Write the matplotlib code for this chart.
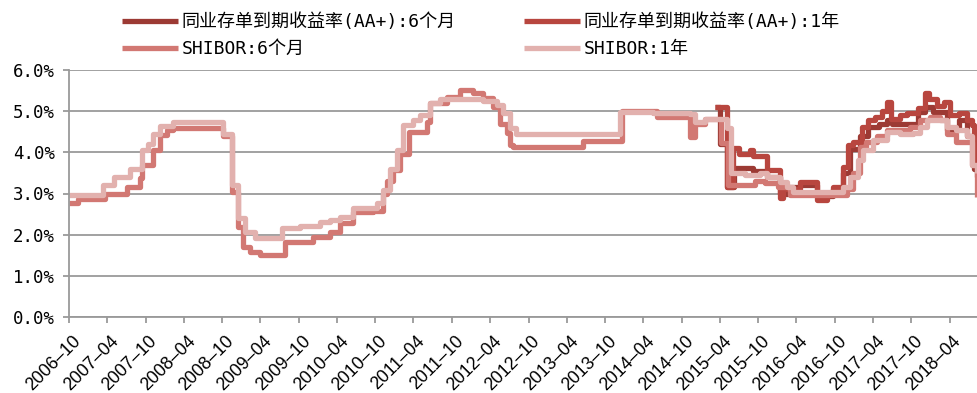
import pandas as pd
import matplotlib.pyplot as plt
import matplotlib.dates as mdates
import matplotlib.transforms as mtransforms
from matplotlib.ticker import PercentFormatter

plt.rcParams['font.family'] = ['DejaVu Sans Mono', 'Noto Sans CJK SC']

# SHIBOR 1Y (step breakpoints)
sh1y_dates = ['2006-10-01', '2007-03-10', '2007-05-06', '2007-07-17', '2007-09-12', '2007-10-12',
              '2007-11-06', '2007-12-10', '2008-02-09', '2008-10-04', '2008-11-16', '2008-12-15',
              '2009-01-18', '2009-03-04', '2009-07-12', '2009-10-06', '2010-01-10', '2010-03-01',
              '2010-04-14', '2010-06-15', '2010-10-09', '2010-11-07', '2010-12-10', '2011-01-12',
              '2011-02-10', '2011-03-28', '2011-05-01', '2011-06-18', '2011-08-04', '2012-02-27',
              '2012-05-03', '2012-06-01', '2012-07-03', '2012-08-01', '2013-12-10', '2014-05-16',
              '2014-11-10', '2014-12-04', '2015-01-19', '2015-05-04', '2015-05-27', '2015-08-01',
              '2015-10-09', '2015-11-12', '2016-01-13', '2016-02-15', '2016-03-13', '2016-11-08',
              '2016-12-12', '2017-01-19', '2017-02-12', '2017-04-01', '2017-06-06', '2017-08-10',
              '2017-10-07', '2017-11-10', '2017-12-13', '2018-03-18', '2018-05-04', '2018-06-21',
              '2018-07-15', '2018-08-09']
sh1y = [2.97, 3.20, 3.40, 3.60, 4.05, 4.20, 4.45, 4.64, 4.74, 4.45, 3.20, 2.40,
        2.06, 1.92, 2.16, 2.22, 2.30, 2.36, 2.44, 2.64, 2.77, 3.08, 3.60, 4.05,
        4.66, 4.78, 4.90, 5.19, 5.29, 5.25, 5.15, 4.95, 4.60, 4.45, 4.99, 4.95,
        4.93, 4.74, 4.80, 4.59, 3.50, 3.45, 3.50, 3.40, 3.29, 3.16, 3.04, 3.17,
        3.40, 3.81, 4.05, 4.30, 4.50, 4.45, 4.47, 4.62, 4.78, 4.62, 4.55, 4.40,
        3.69, 3.50]

# SHIBOR 6M
sh6m_dates = ['2006-10-01', '2006-11-13', '2007-03-20', '2007-07-03', '2007-09-04', '2007-09-14',
              '2007-11-05', '2007-12-08', '2008-01-11', '2008-02-09', '2008-10-04', '2008-11-16',
              '2008-12-15', '2009-01-08', '2009-02-11', '2009-03-28', '2009-07-25', '2009-12-07',
              '2010-02-27', '2010-04-14', '2010-06-15', '2010-09-19', '2010-11-06', '2010-11-25',
              '2010-12-23', '2011-01-26', '2011-03-13', '2011-06-03', '2011-06-17', '2011-09-07',
              '2011-11-08', '2012-01-09', '2012-02-26', '2012-04-13', '2012-05-16', '2012-06-19',
              '2012-07-03', '2012-07-17', '2013-06-16', '2013-12-19', '2014-06-04', '2014-11-09',
              '2014-12-02', '2015-01-19', '2015-04-09', '2015-05-09', '2015-09-15', '2015-11-01',
              '2016-01-03', '2016-03-01', '2016-11-27', '2016-12-25', '2017-01-27', '2017-02-27',
              '2017-04-18', '2017-06-06', '2017-09-24', '2017-11-10', '2017-12-27', '2018-02-15',
              '2018-03-18', '2018-05-04', '2018-07-15', '2018-08-09']
sh6m = [2.78, 2.87, 3.00, 3.15, 3.37, 3.69, 4.05, 4.42, 4.54, 4.60, 4.40, 3.04,
        2.19, 1.71, 1.59, 1.51, 1.83, 1.95, 2.07, 2.28, 2.55, 2.58, 2.98, 3.30,
        3.56, 3.97, 4.50, 4.74, 5.20, 5.35, 5.51, 5.45, 5.33, 5.10, 4.70, 4.47,
        4.18, 4.13, 4.28, 5.00, 4.87, 4.38, 4.70, 4.80, 4.22, 3.20, 3.30, 3.25,
        3.17, 2.97, 3.10, 3.50, 4.14, 4.25, 4.40, 4.55, 4.62, 4.78, 4.87, 4.78,
        4.45, 4.25, 3.69, 2.92]

# NCD AA+ 1Y
ncd1y_dates = ['2015-03-07', '2015-05-04', '2015-06-01', '2015-07-04', '2015-08-21', '2015-09-05',
               '2015-11-12', '2016-01-13', '2016-01-27', '2016-04-16', '2016-07-10', '2016-08-24',
               '2016-09-21', '2016-11-08', '2016-12-01', '2016-12-25', '2017-02-06', '2017-03-06',
               '2017-04-09', '2017-05-12', '2017-06-09', '2017-06-28', '2017-08-06', '2017-09-12',
               '2017-10-31', '2017-12-03', '2017-12-25', '2018-02-01', '2018-03-07', '2018-04-01',
               '2018-05-18', '2018-06-21', '2018-07-15', '2018-07-28', '2018-08-09']
ncd1y = [5.10, 3.17, 4.10, 3.95, 4.05, 3.90, 3.57, 2.89, 3.10, 3.29, 2.85, 3.00,
         3.17, 3.65, 4.18, 4.25, 4.62, 4.78, 4.85, 5.00, 5.23, 4.80, 4.90, 4.95,
         5.07, 5.43, 5.30, 5.13, 5.23, 4.90, 4.95, 4.78, 4.66, 3.90, 3.60]

# NCD AA+ 6M
ncd6m_dates = ['2015-03-07', '2015-04-01', '2015-05-04', '2015-06-10', '2015-09-05', '2015-11-12',
               '2016-01-13', '2016-02-28', '2016-04-16', '2016-07-10', '2016-09-21', '2016-11-08',
               '2016-12-12', '2017-01-27', '2017-03-06', '2017-05-01', '2017-06-06', '2017-07-01',
               '2017-10-31', '2017-12-03', '2018-01-10', '2018-03-18', '2018-05-18', '2018-06-21',
               '2018-07-28', '2018-08-09']
ncd6m = [5.10, 4.20, 3.17, 3.62, 3.55, 3.40, 3.00, 3.15, 3.20, 2.95, 3.10, 3.50,
         4.08, 4.40, 4.62, 4.70, 4.78, 4.70, 4.97, 5.10, 4.97, 4.55, 4.78, 4.40,
         3.60, 3.40]

labels = ['同业存单到期收益率(AA+):6个月', '同业存单到期收益率(AA+):1年',
          'SHIBOR:6个月', 'SHIBOR:1年']
colors = ['#9c3a34', '#b8463f', '#d27873', '#e2b1ae']

fig = plt.figure(figsize=(9.77, 3.93), dpi=100)
ax = fig.add_axes([69 / 977, 1 - 317 / 393, 1 - 69 / 977, 247 / 393])

series = [(ncd6m_dates, ncd6m), (ncd1y_dates, ncd1y), (sh6m_dates, sh6m), (sh1y_dates, sh1y)]
lines = []
for (d, v), lab, c in zip(series, labels, colors):
    ln, = ax.plot(pd.to_datetime(d), [x / 100 for x in v], drawstyle='steps-post',
                  color=c, lw=3.8, label=lab, solid_capstyle='butt')
    lines.append(ln)

ax.set_ylim(0, 0.06)
ax.set_xlim(pd.Timestamp('2006-10-01'), pd.Timestamp('2018-08-10'))
ax.yaxis.set_major_formatter(PercentFormatter(1.0, decimals=1))
ax.set_yticks([0, 0.01, 0.02, 0.03, 0.04, 0.05, 0.06])
ax.xaxis.set_major_locator(mdates.MonthLocator(bymonth=[4, 10]))
ax.xaxis.set_major_formatter(mdates.DateFormatter('%Y–%m'))

ax.grid(axis='y', color='#9a9a9a', lw=1.3)
ax.set_axisbelow(True)
for s in ['top', 'right']:
    ax.spines[s].set_visible(False)
for s in ['left', 'bottom']:
    ax.spines[s].set_color('#9a9a9a')
    ax.spines[s].set_linewidth(1.3)
ax.tick_params(axis='both', color='#9a9a9a', width=1.3, length=4)
ax.tick_params(axis='y', labelsize=12.5, pad=6)
ax.tick_params(axis='x', labelsize=12.8, pad=7)
shift = mtransforms.ScaledTranslation(3 / 100, 0, fig.dpi_scale_trans)
for t in ax.get_xticklabels():
    t.set_rotation(45)
    t.set_ha('right')
    t.set_va('top')
    t.set_rotation_mode('anchor')
    t.set_family('Liberation Sans')
    t.set_transform(t.get_transform() + shift)

# legend rows: NCD on top, SHIBOR below
order = [0, 2, 1, 3]
fig.legend([lines[i] for i in order], [labels[i] for i in order],
           loc='upper left', bbox_to_anchor=(122 / 977, 0.967), ncol=2, fontsize=13,
           frameon=False, handlelength=3.1, columnspacing=3.8, handletextpad=0.2,
           labelspacing=0.5, borderpad=0, borderaxespad=0)

fig.savefig('out.png', dpi=100)
